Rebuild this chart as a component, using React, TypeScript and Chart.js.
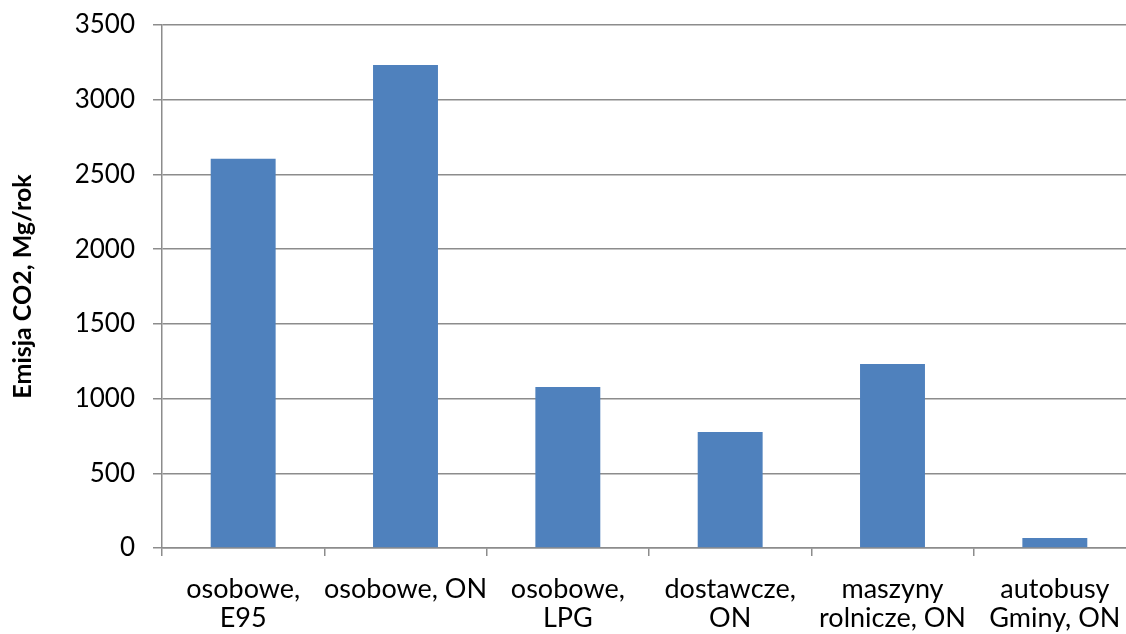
import React, { useEffect, useRef } from "react";
import { Chart, registerables } from "chart.js";

Chart.register(...registerables);

const categories: (string | string[])[] = [
  ["osobowe,", "E95"],
  "osobowe, ON",
  ["osobowe,", "LPG"],
  ["dostawcze,", "ON"],
  ["maszyny", "rolnicze, ON"],
  ["autobusy", "Gminy, ON"],
];
const emissions = [2605, 3232, 1077, 776, 1231, 67];
const yTitle = "Emisja CO2, Mg/rok";

export default function App() {
  const ref = useRef<HTMLCanvasElement | null>(null);
  useEffect(() => {
    if (!ref.current) return;
    const grid = "#8c8c8c";
    const font = "Lato, 'Open Sans', sans-serif";
    const chart = new Chart(ref.current, {
      type: "bar",
      data: {
        labels: categories,
        datasets: [
          {
            data: emissions,
            backgroundColor: "#4F81BD",
            barPercentage: 0.4,
            categoryPercentage: 1,
          },
        ],
      },
      options: {
        animation: false,
        responsive: false,
        layout: { padding: { left: 0, top: 25, right: 0, bottom: 0 } },
        plugins: { legend: { display: false }, tooltip: { enabled: false } },
        scales: {
          x: {
            offset: true,
            grid: {
              offset: true,
              drawOnChartArea: false,
              color: grid,
              lineWidth: 1.5,
              tickLength: 8,
            },
            border: { color: grid, width: 1.5 },
            ticks: {
              color: "#000",
              font: { family: font, size: 27, lineHeight: 1.08 },
              padding: 19,
              maxRotation: 0,
              autoSkip: false,
            },
            afterFit: (s: any) => {
              s.height = 86;
              s.paddingLeft = 0;
              s.paddingRight = 0;
            },
          },
          y: {
            min: 0,
            max: 3500,
            ticks: {
              stepSize: 500,
              color: "#000",
              font: { family: font, size: 26 },
              padding: 18,
              callback: (v: any) => String(v),
            },
            grid: { color: grid, lineWidth: 1.5, tickLength: 9 },
            border: { color: grid, width: 1.5 },
            title: {
              display: true,
              text: yTitle,
              color: "#000",
              font: { family: font, size: 25, weight: "bold" },
              padding: { top: 8, bottom: 0 },
            },
            afterFit: (s: any) => {
              s.width = 162;
              s.paddingTop = 0;
              s.paddingBottom = 0;
            },
          },
        },
      },
    });
    return () => chart.destroy();
  }, []);
  return (
    <div
      style={{
        position: "absolute",
        left: 0,
        top: 0,
        width: 1126,
        height: 634,
        overflow: "hidden",
        background: "#fff",
      }}
    >
      <canvas ref={ref} width={1136} height={634} style={{ display: "block" }} />
    </div>
  );
}
